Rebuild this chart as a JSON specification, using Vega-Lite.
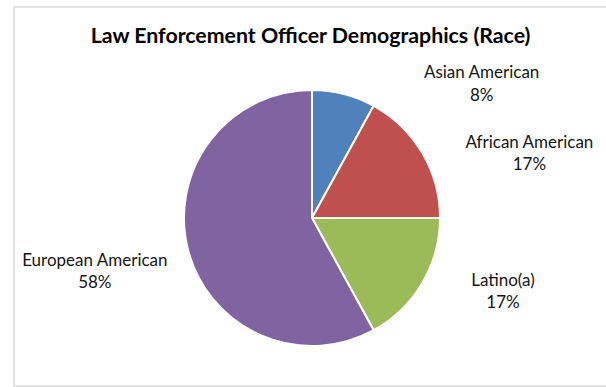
{
  "$schema": "https://vega.github.io/schema/vega-lite/v6.json",
  "width": 593,
  "height": 379,
  "autosize": {"type": "none"},
  "padding": {"left": 14, "top": 7, "right": -1, "bottom": 1},
  "background": "white",
  "view": {"stroke": "#d9d9d9", "strokeWidth": 1.5},
  "title": {
    "text": "Law Enforcement Officer Demographics (Race)",
    "font": "Lato",
    "fontSize": 21.3,
    "fontWeight": "bold",
    "color": "#000000",
    "anchor": "middle",
    "baseline": "alphabetic",
    "offset": -57,
    "frame": "group"
  },
  "data": {
    "values": [
      {"race": "Asian American", "share": 0.08},
      {"race": "African American", "share": 0.17},
      {"race": "Latino(a)", "share": 0.17},
      {"race": "European American", "share": 0.58}
    ]
  },
  "transform": [{"stack": "share", "groupby": [], "as": ["s0", "s1"]}],
  "layer": [
    {
      "mark": {"type": "arc", "outerRadius": 128, "stroke": "#ffffff", "strokeWidth": 2, "xOffset": 1.5, "yOffset": 21.5},
      "encoding": {
        "theta": {"field": "s0", "type": "quantitative", "scale": {"domain": [0, 1]}},
        "theta2": {"field": "s1"},
        "color": {
          "field": "race",
          "type": "nominal",
          "scale": {
            "domain": ["Asian American", "African American", "Latino(a)", "European American"],
            "range": ["#4F81BD", "#C0504D", "#9BBB59", "#8064A2"]
          },
          "legend": null
        }
      }
    },
    {
      "transform": [
        {"fold": ["s0", "s1"], "as": ["edge", "pos"]},
        {"aggregate": [{"op": "mean", "field": "pos", "as": "mid"}], "groupby": ["race", "share"]}
      ],
      "encoding": {
        "theta": {"field": "mid", "type": "quantitative", "stack": null}
      },
      "layer": [
        {
          "transform": [{"filter": "datum.race === 'Asian American'"}],
          "mark": {"type": "text", "radius": 128, "xOffset": 1.5, "yOffset": 21.5, "dx": 137.8, "dy": -15.7, "baseline": "alphabetic", "align": "center", "font": "Lato", "fontSize": 17, "fill": "#151515"},
          "encoding": {"text": {"field": "race", "type": "nominal"}}
        },
        {
          "transform": [{"filter": "datum.race === 'Asian American'"}],
          "mark": {"type": "text", "radius": 128, "xOffset": 1.5, "yOffset": 21.5, "dx": 137.8, "dy": 6.7, "baseline": "alphabetic", "align": "center", "font": "Lato", "fontSize": 17, "fill": "#151515"},
          "encoding": {"text": {"field": "share", "type": "quantitative", "format": ".0%"}}
        },
        {
          "transform": [{"filter": "datum.race === 'African American'"}],
          "mark": {"type": "text", "radius": 128, "xOffset": 1.5, "yOffset": 21.5, "dx": 107.2, "dy": -4.5, "baseline": "alphabetic", "align": "center", "font": "Lato", "fontSize": 17, "fill": "#151515"},
          "encoding": {"text": {"field": "race", "type": "nominal"}}
        },
        {
          "transform": [{"filter": "datum.race === 'African American'"}],
          "mark": {"type": "text", "radius": 128, "xOffset": 1.5, "yOffset": 21.5, "dx": 107.2, "dy": 17.2, "baseline": "alphabetic", "align": "center", "font": "Lato", "fontSize": 17, "fill": "#151515"},
          "encoding": {"text": {"field": "share", "type": "quantitative", "format": ".0%"}}
        },
        {
          "transform": [{"filter": "datum.race === 'Latino(a)'"}],
          "mark": {"type": "text", "radius": 128, "xOffset": 1.5, "yOffset": 21.5, "dx": 80.8, "dy": 2.8, "baseline": "alphabetic", "align": "center", "font": "Lato", "fontSize": 17, "fill": "#151515"},
          "encoding": {"text": {"field": "race", "type": "nominal"}}
        },
        {
          "transform": [{"filter": "datum.race === 'Latino(a)'"}],
          "mark": {"type": "text", "radius": 128, "xOffset": 1.5, "yOffset": 21.5, "dx": 80.8, "dy": 24.8, "baseline": "alphabetic", "align": "center", "font": "Lato", "fontSize": 17, "fill": "#151515"},
          "encoding": {"text": {"field": "share", "type": "quantitative", "format": ".0%"}}
        },
        {
          "transform": [{"filter": "datum.race === 'European American'"}],
          "mark": {"type": "text", "radius": 128, "xOffset": 1.5, "yOffset": 21.5, "dx": -93.2, "dy": 16.2, "baseline": "alphabetic", "align": "center", "font": "Lato", "fontSize": 17, "fill": "#151515"},
          "encoding": {"text": {"field": "race", "type": "nominal"}}
        },
        {
          "transform": [{"filter": "datum.race === 'European American'"}],
          "mark": {"type": "text", "radius": 128, "xOffset": 1.5, "yOffset": 21.5, "dx": -93.2, "dy": 38.2, "baseline": "alphabetic", "align": "center", "font": "Lato", "fontSize": 17, "fill": "#151515"},
          "encoding": {"text": {"field": "share", "type": "quantitative", "format": ".0%"}}
        }
      ]
    }
  ]
}
